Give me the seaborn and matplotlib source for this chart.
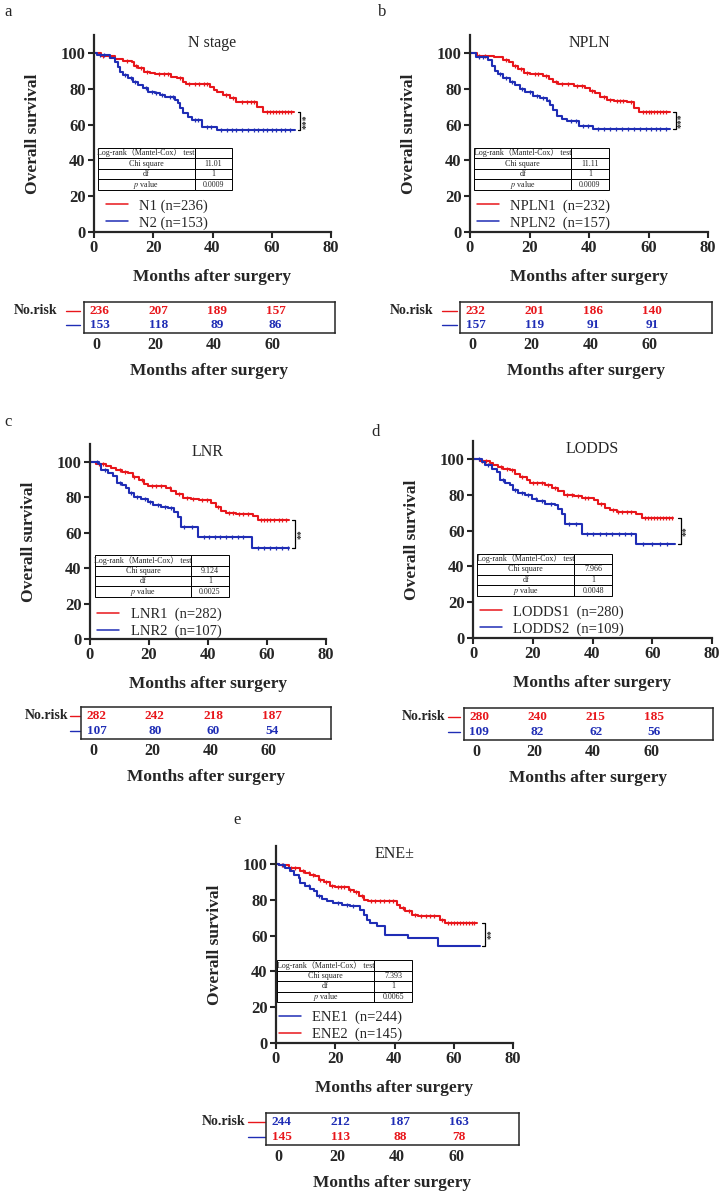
import numpy as np
import matplotlib
matplotlib.use('Agg')
import matplotlib.pyplot as plt
from matplotlib.lines import Line2D
import seaborn as sns

sns.set_style('ticks')
plt.rcParams['font.family'] = ['Liberation Serif', 'Noto Sans CJK SC', 'DejaVu Sans']
plt.rcParams['mathtext.fontset'] = 'stix'

RED = '#e8161b'
BLUE = '#1f2db5'

# ---- survival curves: step times and survival (%) after each step ----
# a: N stage
A_RED_T = [0, 2.5, 7.2, 9.9, 12.7, 13.5, 15, 17, 19, 20.5, 26, 28, 30, 31, 39, 40.5, 41.5, 43.6, 46, 48, 55, 57.2]
A_RED_S = [100, 98.5, 96.8, 95.5, 94.8, 93, 91.5, 89.6, 88.6, 88, 86.8, 85.8, 84, 82.5, 80.8, 79.3, 78.4, 76.5, 74.7, 72.5, 70, 66.8]
A_RED_END = 67.6
A_RED_CENS = [3, 5, 11, 14.2, 16, 18, 22, 23.5, 25, 29, 32, 34, 35.5, 37, 38, 44.5, 47, 50, 51.5, 53, 54,
              58.5, 59.5, 60.5, 61.5, 62.5, 63.5, 64.5, 65.5, 66.5]
A_BLUE_T = [0, 1, 5.4, 7.1, 8.2, 8.8, 9.9, 11.6, 13.3, 15, 16.6, 18.3, 20.6, 22.3, 24, 27.3, 28.5, 29, 30.1, 31.8, 33, 36.3, 41.4]
A_BLUE_S = [100, 99, 97, 95, 92.4, 89.6, 87.7, 85.8, 84, 82, 80.3, 78.4, 77.5, 76.5, 75.6, 73.7, 71.9, 69, 66.3, 64.4, 62.6, 58.8, 57]
A_BLUE_END = 67.8
A_BLUE_CENS = [2, 3.5, 10.5, 12.5, 14, 17.5, 19.5, 21, 23, 25.5, 26.5, 34, 35, 38, 39.5, 43, 45, 46.5, 48, 50,
               52, 54, 55.5, 57, 58.5, 60, 61.5, 63, 64.5, 66]

# b: NPLN
B_RED_T = [0, 2.5, 7.9, 11, 13, 14.6, 16.3, 18, 20, 24.7, 26.4, 28, 29.7, 34.8, 38.7, 40.4, 42, 43.8, 46, 48.3, 52.7, 55, 56.7]
B_RED_S = [100, 98.5, 98, 96, 95, 93, 91, 89, 88, 87, 85.5, 84, 82.5, 81.5, 80.5, 79, 77.5, 75.5, 74, 73, 72.5, 69, 67]
B_RED_END = 67.3
B_RED_CENS = [3, 5, 12, 15, 17, 19, 22, 23, 25.5, 29, 31, 33, 36, 37.5, 41, 45, 47, 49.5, 50.5, 51.5, 54,
              58, 59, 60, 61, 62, 63, 64, 65, 66]
B_BLUE_T = [0, 2, 6.2, 7.3, 8.4, 9.5, 11.2, 13.5, 15.2, 16.8, 18.5, 21.3, 23.6, 25.8, 27, 28, 29.2, 30.9, 32.5, 36.5, 41.5]
B_BLUE_S = [100, 98, 96, 93, 90, 88, 86, 84, 82, 80, 78, 76, 75, 73, 71, 68, 65, 63, 62, 59, 57.5]
B_BLUE_END = 67.3
B_BLUE_CENS = [3, 4.5, 10, 12, 14, 17.5, 20, 22.5, 24.5, 26.5, 34, 35.5, 38, 39.5, 43, 45, 47, 49, 51, 53,
               55, 57, 59, 61, 62.5, 64, 66]

# c: LNR
C_RED_T = [0, 2, 5.4, 7.1, 8.8, 11, 12.8, 14.5, 16.7, 18.4, 19.6, 25.8, 27.5, 29.2, 31.4, 34.3, 37, 41, 42.8, 44.5, 46.2, 49.5, 55.2, 56.9]
C_RED_S = [100, 98.7, 97.7, 96.8, 95.5, 94.5, 93.6, 91.7, 89.8, 87.4, 86.7, 85.2, 83.6, 81.8, 79.9, 79.1, 78.6, 76.7, 74.8, 72.4, 71, 70.5, 69.5, 67.5]
C_RED_END = 67.6
C_RED_CENS = [3, 4.5, 10, 12, 15, 17.5, 21, 22.5, 24, 27, 30, 33, 35, 38, 39.5, 43.5, 47, 48.5, 50.5, 52, 53.5,
              58, 59, 60, 61, 62.5, 64, 65, 66.5]
C_BLUE_T = [0, 3.2, 3.7, 6, 7.7, 9, 11, 12.2, 13.3, 15, 17.3, 19.6, 21.3, 24, 26.4, 28.6, 29.8, 30.9, 36.5, 54.8]
C_BLUE_S = [100, 98.7, 95.5, 93.6, 92.3, 88, 87, 85.2, 82.3, 80.5, 79.1, 77.6, 75.8, 74.8, 73.9, 72, 69.2, 63.5, 57.5, 51.3]
C_BLUE_END = 67.6
C_BLUE_CENS = [2.5, 5, 10, 14, 16, 18.5, 20.5, 23, 25.5, 27.5, 32, 34.5, 38.5, 40.5, 42.5, 44, 46, 48, 50, 52,
               57, 59, 61, 63, 65, 67]

# d: LODDS
D_RED_T = [0, 2.3, 5.7, 6.8, 8.5, 10.2, 12.4, 14.1, 15.8, 18, 19.1, 24.2, 26.4, 28.6, 30.3, 33.7, 36.5, 40.4, 42, 44.3, 46, 48.2, 54.4, 56.6]
D_RED_S = [100, 98.7, 97.9, 96.8, 95.5, 94.6, 93.7, 91.8, 89.9, 88, 86.8, 85.3, 83.8, 81.9, 80, 79.1, 78.4, 76.9, 75, 72.6, 71.3, 70.3, 69.4, 67]
D_RED_END = 67.1
D_RED_CENS = [3, 4.5, 9.5, 11.5, 13, 16.5, 20, 21.5, 23, 25, 27.5, 31.5, 33, 35, 37.5, 38.5, 43, 47, 48.5, 50,
              51.5, 53, 57.5, 58.5, 59.5, 60.5, 61.5, 62.5, 63.5, 64.5, 65.5, 66.5]
D_BLUE_T = [0, 2.9, 4, 6.3, 8, 9, 10.7, 12.4, 13.5, 15.2, 17.4, 19.7, 21.4, 24.2, 27.5, 28.6, 29.8, 30.9, 36.5, 54.6]
D_BLUE_S = [100, 98.3, 96.5, 94.6, 92.7, 88, 86.8, 85.3, 82.5, 81.2, 79.7, 77.8, 76.3, 75, 74.1, 72.2, 69.4, 63.8, 58, 52.4]
D_BLUE_END = 67.7
D_BLUE_CENS = [2, 5, 10, 14, 16.5, 18.5, 21, 23, 26, 32, 34.5, 38, 40, 42.5, 44.5, 46.5, 49, 51, 53, 57,
               60, 62.5, 65]

# e: ENE
E_RED_T = [0, 1, 4.3, 8.2, 9.9, 11.6, 13.3, 14.4, 16.1, 18.3, 20, 24.5, 26.2, 27.9, 29.6, 31.2, 40.8, 41.9, 43.6, 45.8, 48, 55.4, 57.1]
E_RED_S = [100, 99.3, 98, 96.3, 95, 94, 93.1, 91.2, 89.9, 87.5, 87, 85.7, 84.2, 82.3, 80.1, 79.1, 77.3, 75.4, 73.6, 71.7, 70.8, 68.9, 67]
E_RED_END = 67.8
E_RED_CENS = [2, 5, 6.5, 9, 11, 12.5, 15, 17, 19, 21, 22, 23, 25, 27, 29, 32, 33.5, 35, 36.5, 38, 39.5, 43,
              45, 47, 49, 50.5, 52, 53.5, 56, 58, 59, 60, 61, 62, 63, 64, 65, 66, 67]
E_BLUE_T = [0, 1, 3.1, 4.8, 6, 7.6, 8.2, 9.9, 11.6, 12.7, 13.8, 15.5, 17.2, 19.4, 22.2, 25, 28.4, 29.6, 30.7, 31.8, 34, 36.9, 44.7, 54.8]
E_BLUE_S = [100, 99.3, 97.8, 95.9, 94, 92.2, 89.4, 87.5, 86.2, 84.7, 81.9, 80.6, 79.1, 78.2, 77.3, 76.4, 74.5, 71.7, 68.9, 67, 65.2, 60.5, 58.5, 54.2]
E_BLUE_END = 68.8
E_BLUE_CENS = [2.5, 11, 14.5, 21, 24, 26]

# ---- log-rank tables ----
TITLES = ['N stage', 'NPLN', 'LNR', 'LODDS', 'ENE±']
PANEL_LETTERS = ['a', 'b', 'c', 'd', 'e']
CHI_SQUARE = ['11.01', '11.11', '9.124', '7.966', '7.393']
DF = ['1', '1', '1', '1', '1']
P_VALUE = ['0.0009', '0.0009', '0.0025', '0.0048', '0.0065']
STARS = ['***', '***', '**', '**', '**']

LEGEND_LABELS = [
    ['N1 (n=236)', 'N2 (n=153)'],
    ['NPLN1  (n=232)', 'NPLN2  (n=157)'],
    ['LNR1  (n=282)', 'LNR2  (n=107)'],
    ['LODDS1  (n=280)', 'LODDS2  (n=109)'],
    ['ENE1  (n=244)', 'ENE2  (n=145)'],
]
LEGEND_COLORS = [[RED, BLUE], [RED, BLUE], [RED, BLUE], [RED, BLUE], [BLUE, RED]]

# ---- numbers at risk ----
RISK_TIMES = [0, 20, 40, 60]
RISK_ROW1 = [[236, 207, 189, 157], [232, 201, 186, 140], [282, 242, 218, 187],
             [280, 240, 215, 185], [244, 212, 187, 163]]
RISK_ROW2 = [[153, 118, 89, 86], [157, 119, 91, 91], [107, 80, 60, 54],
             [109, 82, 62, 56], [145, 113, 88, 78]]
RISK_COLORS = [[RED, BLUE], [RED, BLUE], [RED, BLUE], [RED, BLUE], [BLUE, RED]]

CURVES = [
    [(A_RED_T, A_RED_S, A_RED_END, A_RED_CENS, RED), (A_BLUE_T, A_BLUE_S, A_BLUE_END, A_BLUE_CENS, BLUE)],
    [(B_RED_T, B_RED_S, B_RED_END, B_RED_CENS, RED), (B_BLUE_T, B_BLUE_S, B_BLUE_END, B_BLUE_CENS, BLUE)],
    [(C_RED_T, C_RED_S, C_RED_END, C_RED_CENS, RED), (C_BLUE_T, C_BLUE_S, C_BLUE_END, C_BLUE_CENS, BLUE)],
    [(D_RED_T, D_RED_S, D_RED_END, D_RED_CENS, RED), (D_BLUE_T, D_BLUE_S, D_BLUE_END, D_BLUE_CENS, BLUE)],
    [(E_RED_T, E_RED_S, E_RED_END, E_RED_CENS, RED), (E_BLUE_T, E_BLUE_S, E_BLUE_END, E_BLUE_CENS, BLUE)],
]

# layout in pixels: km axes (left, right, y of 0, y of 100), risk box (l, t, r, b)
KM_BOX = [(94, 331, 232, 53), (470, 708, 232, 53), (90, 326, 639, 462),
          (473, 712, 638, 459), (276, 513, 1043, 864)]
RISK_BOX = [(84, 302, 335, 333), (460, 302, 712, 333), (81, 707, 331, 739),
            (464, 708, 713, 740), (266, 1113, 519, 1145)]
LETTER_POS = [(8, 12), (382, 12), (8, 422), (376, 432), (237, 820)]
NORISK_X = [-0.104, -0.107, -0.052, -0.076, -0.083]
KEY_SPAN = [(-0.072, -0.016), (-0.071, -0.012), (-0.044, -0.004), (-0.064, -0.016), (-0.071, -0.004)]
LEGEND_ANCHOR = [(0.05, 0.012), (0.028, 0.012), (0.031, 0.005), (0.028, 0.012), (0.012, 0.008)]
TABLE_BBOX = [(0.015, 0.213, 0.569, 0.215), (0.018, 0.213, 0.565, 0.215), (0.021, 0.217, 0.566, 0.214),
              (0.017, 0.214, 0.566, 0.215), (0.003, 0.208, 0.572, 0.212)]

W, H = 720, 1193
fig = plt.figure(figsize=(W / 100, H / 100), dpi=100)


def px_axes(left, top, right, bottom):
    return fig.add_axes([left / W, 1 - bottom / H, (right - left) / W, (bottom - top) / H])


def step_value(t, s, x):
    idx = np.searchsorted(np.asarray(t), np.asarray(x), side='right') - 1
    return np.asarray(s)[idx]


for i in range(5):
    left, right, y0, y100 = KM_BOX[i]
    top = y0 - 1.1 * (y0 - y100)
    ax = px_axes(left, top, right, y0)

    ends = []
    for t, s, end, cens, col in CURVES[i]:
        xs = list(t) + [end]
        ys = list(s) + [s[-1]]
        sns.lineplot(x=xs, y=ys, ax=ax, color=col, lw=1.5, drawstyle='steps-post',
                     estimator=None, sort=False, legend=False)
        ax.plot(cens, step_value(t, s, cens), ls='none', marker='|', ms=3, mew=0.9, color=col)
        ends.append((end, s[-1]))

    # significance bracket
    bx = max(e[0] for e in ends) + 1.8
    ya, yb = ends[0][1], ends[1][1]
    ax.plot([bx - 0.9, bx, bx, bx - 0.9], [ya, ya, yb, yb], color='black', lw=0.9)
    ax.text(bx + 2.0, (ya + yb) / 2, STARS[i], rotation=90, ha='center', va='center',
            fontsize=7, fontweight='bold')

    ax.set_xlim(0, 80)
    ax.set_ylim(0, 110)
    ax.set_xticks([0, 20, 40, 60, 80])
    ax.set_yticks([0, 20, 40, 60, 80, 100])
    sns.despine(ax=ax)
    for sp in ['left', 'bottom']:
        ax.spines[sp].set_linewidth(1.6)
    ax.tick_params(width=1.5, length=4, labelsize=12, pad=2)
    for lab in ax.get_xticklabels() + ax.get_yticklabels():
        lab.set_fontweight('bold')
    ax.set_xlabel('Months after surgery', fontsize=12.5, fontweight='bold', labelpad=9)
    ax.set_ylabel('Overall survival', fontsize=12.5, fontweight='bold', labelpad=14)
    ax.text(40, 105.5, TITLES[i], ha='center', va='center', fontsize=11.5)

    # log-rank table
    tb = ax.table(cellText=[['Log-rank（Mantel-Cox） test', ''],
                            ['Chi square', CHI_SQUARE[i]],
                            ['df', DF[i]],
                            ['$p$ value', P_VALUE[i]]],
                  colWidths=[0.72, 0.28], cellLoc='center', bbox=list(TABLE_BBOX[i]))
    tb.auto_set_font_size(False)
    tb.set_fontsize(5.8)
    for cell in tb.get_celld().values():
        cell.set_linewidth(0.7)
        cell.get_text().set_fontfamily(['Liberation Serif', 'Noto Sans CJK SC'])

    handles = [Line2D([], [], color=c, lw=1.1) for c in LEGEND_COLORS[i]]
    ax.legend(handles, LEGEND_LABELS[i], loc='lower left', bbox_to_anchor=LEGEND_ANCHOR[i],
              frameon=False, fontsize=10.5, handlelength=1.5, handletextpad=0.8,
              labelspacing=0.25, borderpad=0, borderaxespad=0)

    lx, ly = LETTER_POS[i]
    fig.text(lx / W, 1 - ly / H, PANEL_LETTERS[i], ha='center', va='center', fontsize=12)

    # numbers at risk
    rl, rt, rr, rb = RISK_BOX[i]
    rax = px_axes(rl, rt, rr, rb)
    rax.set_xlim(-4.3, 81.3)
    rax.set_ylim(0, 1)
    rows = [(RISK_ROW1[i], 0.72), (RISK_ROW2[i], 0.25)]
    for (vals, yy), col in zip(rows, RISK_COLORS[i]):
        for tt, v in zip(RISK_TIMES, vals):
            rax.text(tt + 1, yy, str(v), color=col, ha='center', va='center', fontsize=9.5, fontweight='bold')
    for yy, col in zip([0.72, 0.25], [RED, BLUE]):
        rax.plot(KEY_SPAN[i], [yy, yy], color=col, lw=1.0, transform=rax.transAxes, clip_on=False)
    rax.text(NORISK_X[i], 0.72, 'No.risk', transform=rax.transAxes, ha='right', va='center',
             fontsize=10, fontweight='bold')
    for sp in rax.spines.values():
        sp.set_linewidth(1.1)
        sp.set_visible(True)
    rax.set_yticks([])
    rax.set_xticks(RISK_TIMES)
    rax.tick_params(axis='x', length=0, labelsize=11.5, pad=3)
    for lab in rax.get_xticklabels():
        lab.set_fontweight('bold')
    rax.set_xlabel('Months after surgery', fontsize=12.5, fontweight='bold', labelpad=7)

fig.savefig('out.png', dpi=100)
